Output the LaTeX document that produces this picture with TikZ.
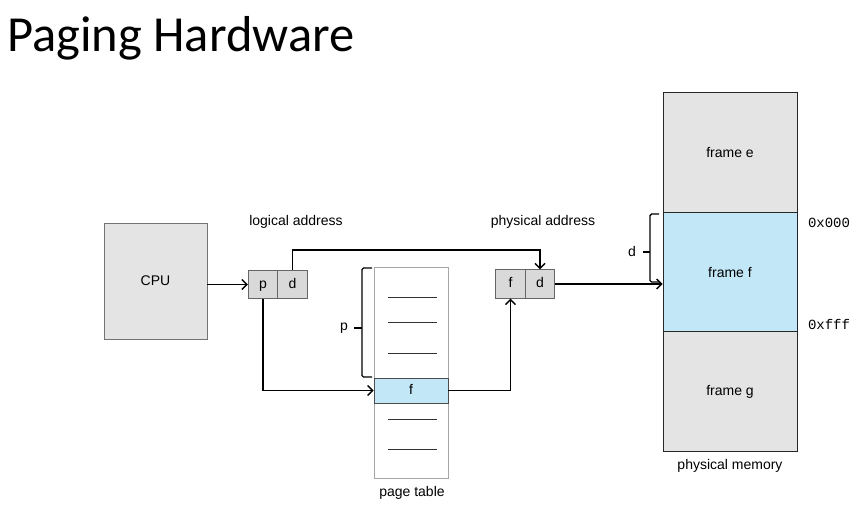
\documentclass[tikz,border=0pt]{standalone}
\usepackage{fontspec}
\setmainfont{Liberation Sans}
\setmonofont{Liberation Mono}
\newfontfamily\titlefont{Carlito}
\usepackage{xcolor}
\usetikzlibrary{arrows.meta}
\definecolor{boxgray}{HTML}{E4E4E4}
\definecolor{cellgray}{HTML}{D9D9D9}
\definecolor{rowblue}{HTML}{C2E8F8}

\begin{document}
\begin{tikzpicture}[x=1pt,y=-1pt]
\tikzset{font=\fontsize{14}{16}\selectfont}
\tikzset{unit/.style = {shape=rectangle,draw=black!55,fill=boxgray,line width=0.9pt}}
\tikzset{cell/.style = {shape=rectangle,draw=black!60,fill=cellgray,minimum width=29.5pt,minimum height=28.5pt,inner sep=0pt,text height=10pt,text depth=3pt,line width=0.8pt}}
\tikzset{frame/.style = {shape=rectangle,draw=black!85,fill=boxgray,minimum width=134pt,minimum height=119.5pt,line width=1pt}}
\tikzset{edge/.style = {->,> = {Straight Barb[length=5pt,width=10pt]},line width=1.4pt}}
\tikzset{bracket/.style = {line width=1.4pt,rounded corners=1.5pt}}
\tikzset{entry/.style = {line width=1pt,black!80}}
\useasboundingbox (0,0) rectangle (867,511);

% title
\node[anchor=base west,inner sep=0pt,font=\titlefont\fontsize{50.5}{56}\selectfont] (title) at (7,52) {Paging Hardware};

% vertices
\node[unit,minimum width=103pt,minimum height=116pt] (cpu) at (155.5,281) {CPU};
\node[cell] (p) at (263,284.5) {p};
\node[cell] (d) at (292.5,284.5) {d};
\node[shape=rectangle,draw=black!35,fill=white,minimum width=74pt,minimum height=211pt,line width=1pt] (pt) at (411,372.5) {};
\node[shape=rectangle,draw=black!70,fill=rowblue,minimum width=74pt,minimum height=25pt,inner sep=0pt,text height=10pt,text depth=3pt,line width=0.8pt] (fr) at (411,390.5) {f};
\node[cell] (pf) at (510.5,284) {f};
\node[cell] (pd) at (540,284) {d};
\node[frame] (fe) at (730,152.5) {frame e};
\node[frame,fill=rowblue] (ff) at (730,272) {frame f};
\node[frame] (fg) at (730,391.5) {frame g};

% table entries
\foreach \y in {297,322,353,419,449}
  \draw[entry] (388,\y) -- (437,\y);

% labels
\node (la) at (296,222) {logical address};
\node (pa) at (543,222) {physical address};
\node (ptl) at (412,493) {page table};
\node (pml) at (730,466) {physical memory};
\node[font=\ttfamily\fontsize{14}{16}\selectfont] (lo) at (829,223) {0x000};
\node[font=\ttfamily\fontsize{14}{16}\selectfont] (hi) at (829,324) {0xfff};

% braces
\draw[bracket] (372,268) -- (362,268) -- (362,377) -- (372,377);
\draw[bracket] (362,328) -- (354,328);
\node (pl) at (344,328) {p};
\draw[bracket] (659,214) -- (650,214) -- (650,282) -- (659,282);
\draw[bracket] (650,252) -- (643,252);
\node (dl) at (632,251) {d};

%edges
\draw[edge] (cpu.east |- p.west) -- (p.west);
\draw[edge] (p.south) |- (fr.west);
\draw[edge] (d.north) -- ++(0,-20) -| (pd.north);
\draw[edge] (fr.east) -| (pf.south);
\draw[edge] (pd.east) -- (ff.west |- pd.east);
\end{tikzpicture}
\end{document}
